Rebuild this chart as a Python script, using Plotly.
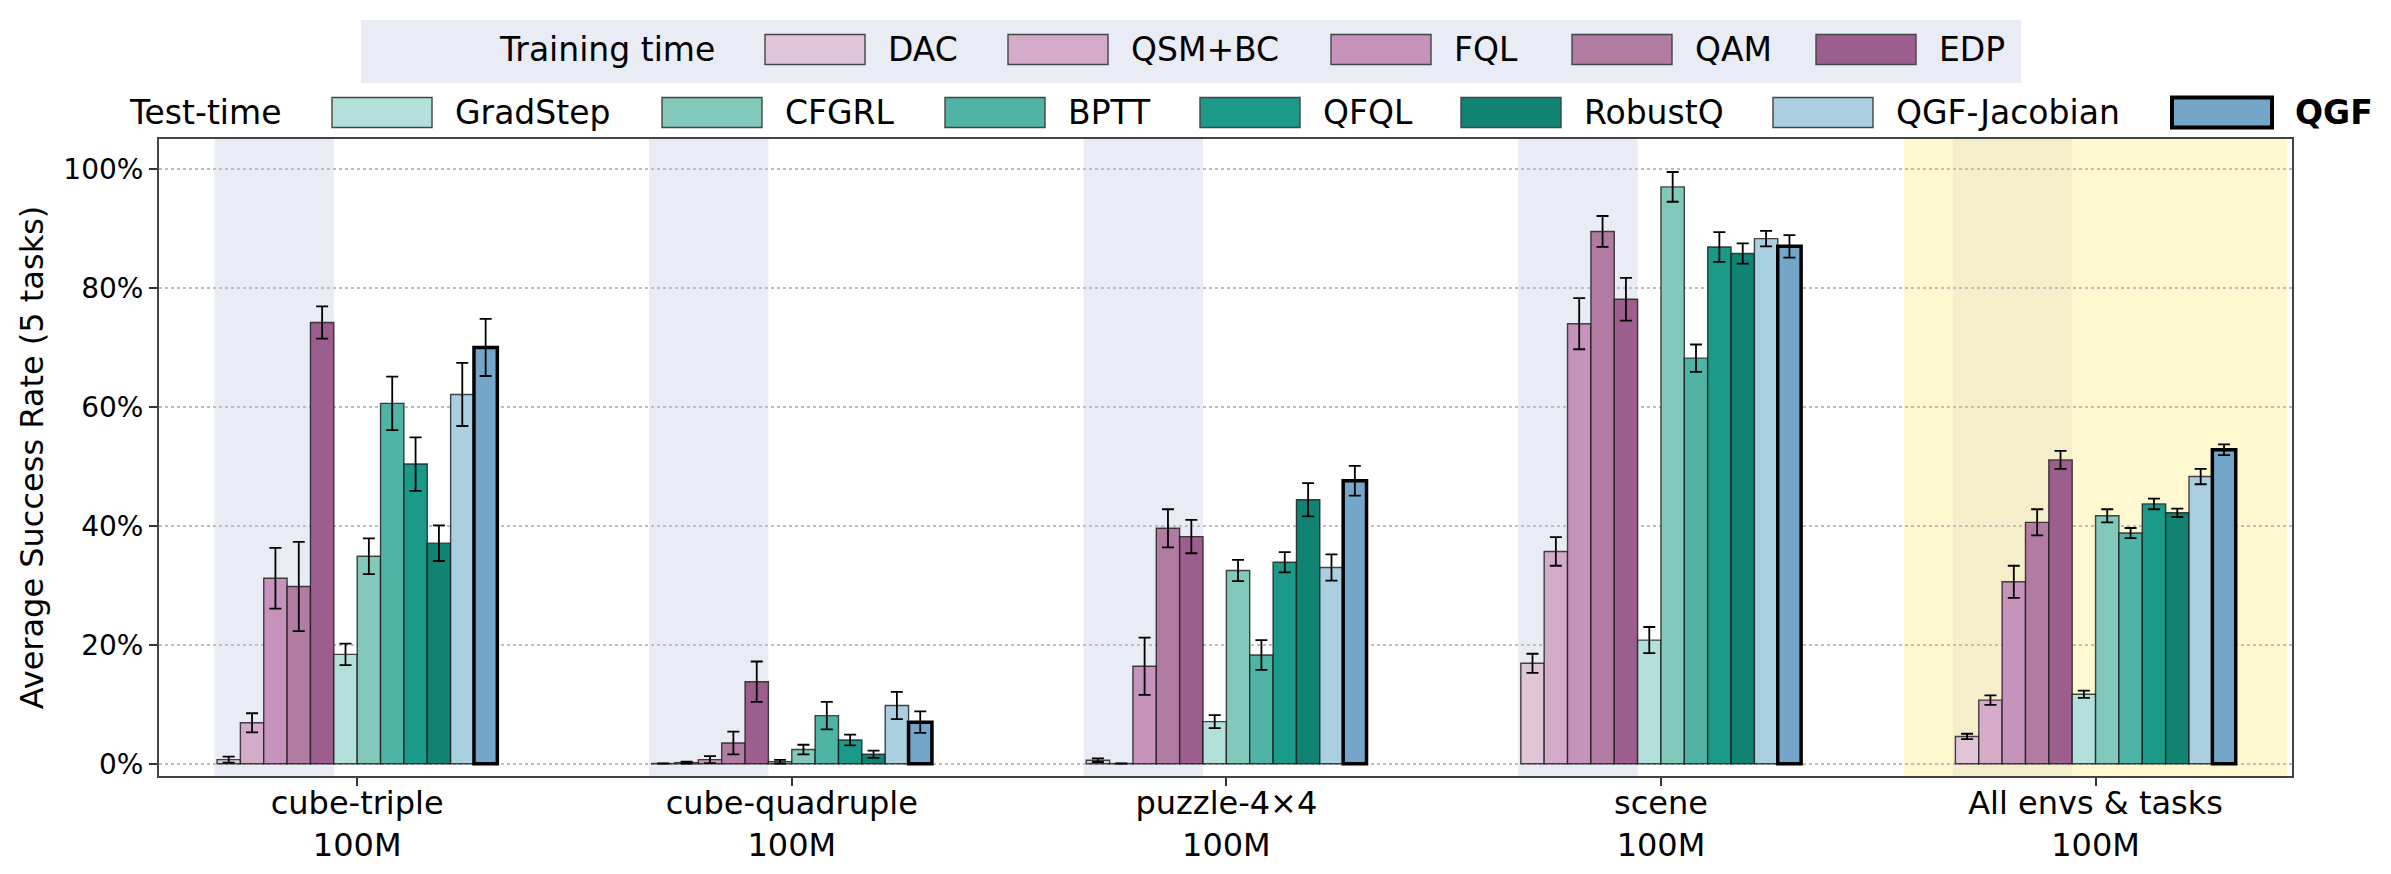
import plotly.graph_objects as go

# ---------------- data ----------------
env_labels = ["cube-triple<br>100M", "cube-quadruple<br>100M", "puzzle-4×4<br>100M",
              "scene<br>100M", "All envs & tasks<br>100M"]

train_methods = ["DAC", "QSM+BC", "FQL", "QAM", "EDP"]
test_methods = ["GradStep", "CFGRL", "BPTT", "QFQL", "RobustQ", "QGF-Jacobian", "QGF"]

dac = [0.7, 0.05, 0.6, 16.9, 4.6]
dac_err = [0.5, 0.0, 0.3, 1.6, 0.45]
qsm_bc = [6.9, 0.2, 0.05, 35.7, 10.7]
qsm_bc_err = [1.6, 0.15, 0.0, 2.4, 0.8]
fql = [31.2, 0.7, 16.4, 74.0, 30.6]
fql_err = [5.1, 0.6, 4.8, 4.3, 2.7]
qam = [29.8, 3.5, 39.6, 89.5, 40.6]
qam_err = [7.5, 1.9, 3.2, 2.6, 2.2]
edp = [74.2, 13.8, 38.2, 78.1, 51.1]
edp_err = [2.7, 3.4, 2.8, 3.6, 1.5]
gradstep = [18.4, 0.35, 7.1, 20.8, 11.7]
gradstep_err = [1.8, 0.3, 1.1, 2.2, 0.6]
cfgrl = [34.9, 2.4, 32.5, 97.0, 41.7]
cfgrl_err = [3.0, 0.8, 1.8, 2.5, 1.1]
bptt = [60.6, 8.1, 18.3, 68.2, 38.8]
bptt_err = [4.5, 2.3, 2.5, 2.3, 0.85]
qfql = [50.4, 4.0, 33.9, 86.9, 43.7]
qfql_err = [4.5, 0.9, 1.7, 2.5, 0.9]
robustq = [37.1, 1.6, 44.4, 85.8, 42.2]
robustq_err = [3.0, 0.6, 2.8, 1.7, 0.7]
qgf_jac = [62.1, 9.8, 33.0, 88.3, 48.3]
qgf_jac_err = [5.3, 2.3, 2.2, 1.3, 1.3]
qgf = [70.0, 7.0, 47.6, 87.0, 52.8]
qgf_err = [4.8, 1.8, 2.5, 1.9, 0.9]

train_colors = ["#e0c4d8", "#d4abc9", "#c593bb", "#b27ba1", "#9c5f8d"]
test_colors = ["#b3e0da", "#82c9bc", "#4fb4a5", "#1c9a89", "#108373", "#a9cfe1", "#73a6c8"]

ytick_vals = [0, 20, 40, 60, 80, 100]
ytick_text = ["0%", "20%", "40%", "60%", "80%", "100%"]

train_vals = [dac, qsm_bc, fql, qam, edp]
train_errs = [dac_err, qsm_bc_err, fql_err, qam_err, edp_err]
test_vals = [gradstep, cfgrl, bptt, qfql, robustq, qgf_jac, qgf]
test_errs = [gradstep_err, cfgrl_err, bptt_err, qfql_err, robustq_err, qgf_jac_err, qgf_err]

# ---------------- layout constants ----------------
W, H = 2391, 874
L, R, T, B = 159, 2292, 139, 776
FONT = "DejaVu Sans"
BARGAP = 0.355
n_bars = len(train_methods) + len(test_methods)
bw = (1 - BARGAP) / n_bars

def px_x(p):
    return (p - L) / (R - L)

def px_y(p):
    return (B - p) / (B - T)

xs = list(range(len(env_labels)))

fig = go.Figure()

all_names = train_methods + test_methods
all_colors = train_colors + test_colors
all_vals = train_vals + test_vals
all_errs = train_errs + test_errs

for name, col, vals, errs in zip(all_names, all_colors, all_vals, all_errs):
    is_qgf = name == "QGF"
    fig.add_trace(go.Bar(
        x=xs, y=vals, name=name, showlegend=False,
        marker=dict(color=col,
                    line=dict(color="black" if is_qgf else "rgba(25,25,25,0.8)",
                              width=3.5 if is_qgf else 1.4)),
        error_y=dict(type="data", array=errs, visible=True, color="black",
                     thickness=1.8, width=6),
    ))

# shading: training-time region in each group, yellow highlight on aggregate group
shapes = []
for i in xs:
    shapes.append(dict(type="rect", xref="x", yref="y domain",
                       x0=i - 6 * bw - 0.006, x1=i - bw, y0=0, y1=1,
                       fillcolor="#eaecf5", line=dict(width=0), layer="below"))
last = xs[-1]
shapes.append(dict(type="rect", xref="x", yref="y domain",
                   x0=last - 0.441, x1=last + 0.441, y0=0, y1=1,
                   fillcolor="rgba(255,240,157,0.48)", line=dict(width=0), layer="below"))

# ---------------- manual legend ----------------
annotations = []
LEG_FS = 33
shapes.append(dict(type="rect", xref="paper", yref="paper",
                   x0=px_x(361), x1=px_x(2021), y0=px_y(83), y1=px_y(20),
                   fillcolor="#eaecf5", line=dict(width=0), layer="above"))
row1_y, row2_y = 49.5, 112.5
annotations.append(dict(text="Training time", xref="paper", yref="paper",
                        x=px_x(497), y=px_y(row1_y), xanchor="left", yanchor="middle",
                        showarrow=False, font=dict(family=FONT, size=LEG_FS, color="black")))
annotations.append(dict(text="Test-time", xref="paper", yref="paper",
                        x=px_x(127), y=px_y(row2_y), xanchor="left", yanchor="middle",
                        showarrow=False, font=dict(family=FONT, size=LEG_FS, color="black")))
row1_left = [765, 1008, 1331, 1572, 1816]
row2_left = [332, 662, 945, 1200, 1461, 1773, 2172]
PW, PH = 100, 30
for names, cols, lefts, cy in [(train_methods, train_colors, row1_left, row1_y),
                               (test_methods, test_colors, row2_left, row2_y)]:
    for name, col, lx in zip(names, cols, lefts):
        is_qgf = name == "QGF"
        shapes.append(dict(type="rect", xref="paper", yref="paper",
                           x0=px_x(lx), x1=px_x(lx + PW),
                           y0=px_y(cy + PH / 2), y1=px_y(cy - PH / 2),
                           fillcolor=col,
                           line=dict(color="black" if is_qgf else "#444444",
                                     width=4 if is_qgf else 1.4),
                           layer="above"))
        annotations.append(dict(text=f"<b>{name}</b>" if is_qgf else name,
                                xref="paper", yref="paper",
                                x=px_x(lx + 121), y=px_y(cy), xanchor="left", yanchor="middle",
                                showarrow=False,
                                font=dict(family=FONT, size=LEG_FS, color="black")))

fig.update_layout(
    width=W, height=H,
    margin=dict(l=L, r=W - R, t=T, b=H - B, pad=0),
    paper_bgcolor="white", plot_bgcolor="white",
    barmode="group", bargap=BARGAP, bargroupgap=0,
    font=dict(family=FONT, color="black"),
    shapes=shapes, annotations=annotations,
    showlegend=False,
)
fig.update_xaxes(
    automargin=False,
    range=[-0.456, len(xs) - 1 + 0.452],
    tickvals=xs, ticktext=env_labels,
    tickfont=dict(family=FONT, size=32, color="black"),
    ticks="outside", ticklen=8, tickwidth=1.5, tickcolor="#333333",
    ticklabelstandoff=-10,
    showline=True, linecolor="#444444", linewidth=2, mirror=True,
    showgrid=False, zeroline=False,
)
fig.update_yaxes(
    automargin=False,
    range=[-2.05, 105.05],
    tickvals=ytick_vals, ticktext=ytick_text,
    tickfont=dict(family=FONT, size=28, color="black"),
    ticks="outside", ticklen=8, tickwidth=1.5, tickcolor="#333333",
    showline=True, linecolor="#444444", linewidth=2, mirror=True,
    showgrid=True, gridcolor="#bdbdbd", griddash="dot", gridwidth=1.5,
    zeroline=False,
    title=dict(text="Average Success Rate (5 tasks)",
               font=dict(family=FONT, size=32, color="black"), standoff=10),
)

fig.write_html("out.html")
